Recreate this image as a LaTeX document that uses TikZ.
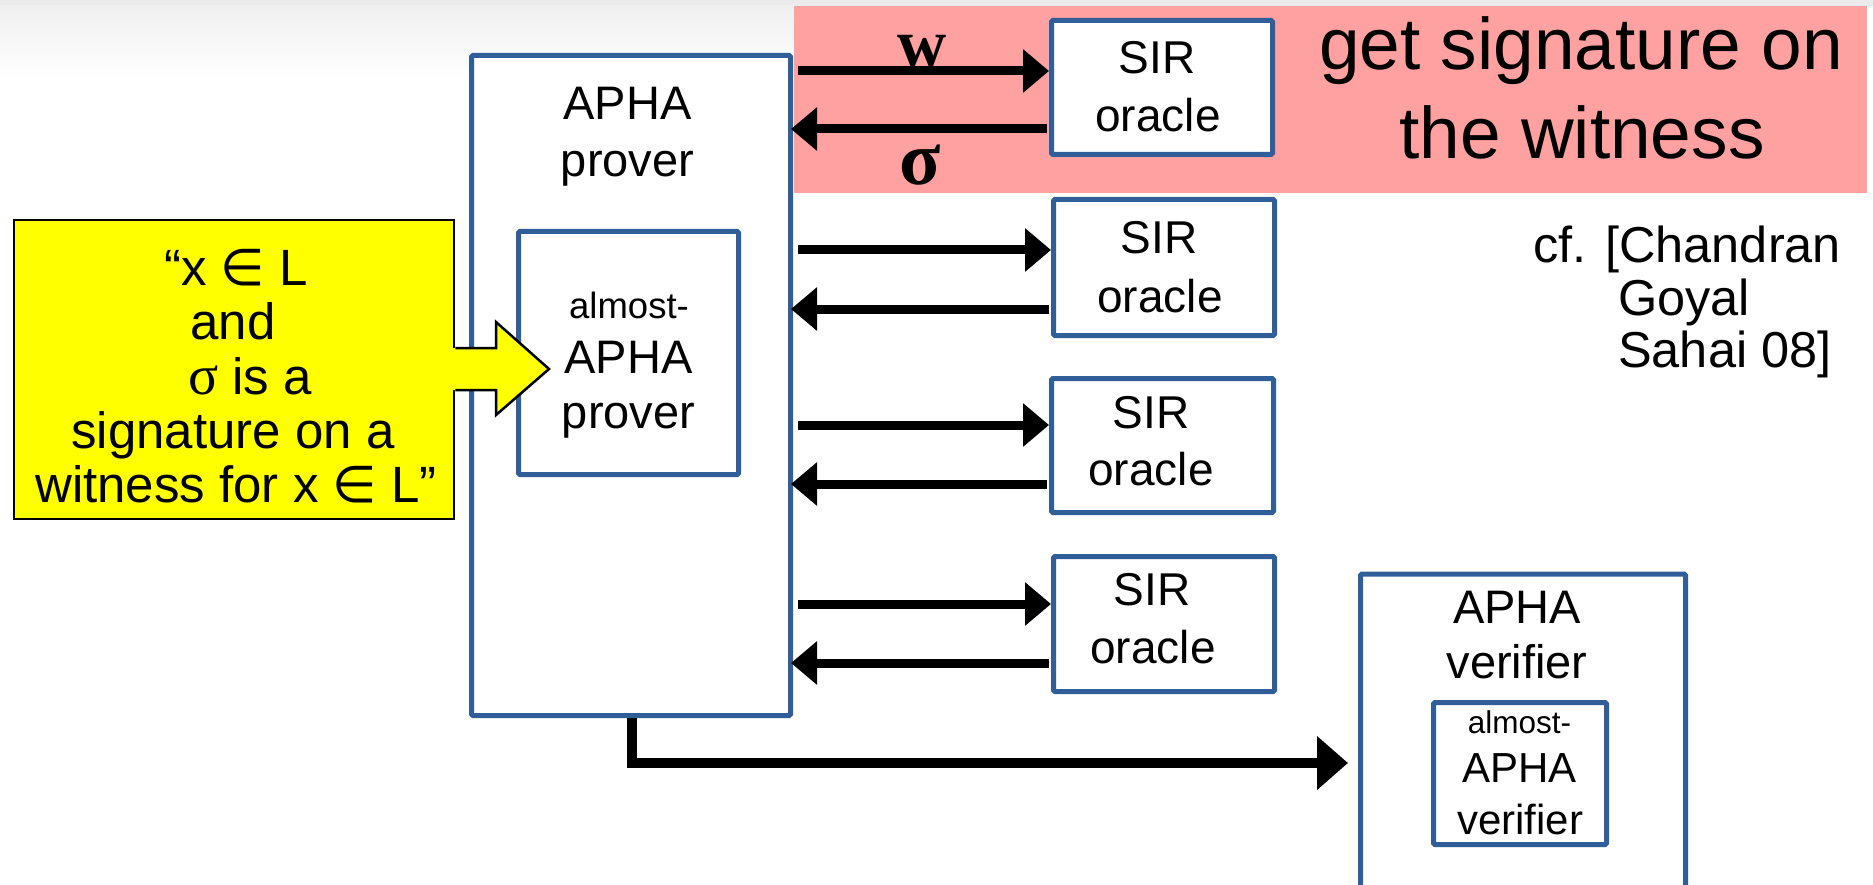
\documentclass[tikz,border=0pt]{standalone}
\usepackage{fontspec}
\setmainfont{Liberation Sans}
\newfontfamily\grk{Liberation Serif}
\newfontfamily\dvs{DejaVu Sans}
\usetikzlibrary{arrows.meta}
\definecolor{boxblue}{RGB}{47,94,152}
\definecolor{hilite}{RGB}{255,161,160}
\definecolor{shout}{RGB}{255,255,0}
\newcommand{\fsz}[1]{\fontsize{#1}{#1}\selectfont}
\tikzset{
  bluebox/.style={draw=boxblue, line width=5pt, fill=white, rounded corners=1.5pt, inner sep=0pt},
  txt/.style={anchor=base, inner sep=0pt, font=\fsz{#1}},
  txtw/.style={anchor=base west, inner sep=0pt, font=\fsz{#1}},
  msg/.style={line width=9pt, -{Triangle[length=26pt,width=42pt]}},
  outmsg/.style={line width=10pt, -{Triangle[length=31pt,width=52pt]}, shorten >=10pt},
}
\begin{document}
\begin{tikzpicture}[x=1pt,y=-1pt]
\useasboundingbox (0,0) rectangle (1873,885);
\clip (0,0) rectangle (1873,885);

% header band and highlight strip
\fill[black!8] (0,0) rectangle (1873,6);
\shade[top color=black!6, bottom color=white] (0,6) rectangle (794,78);
\fill[hilite] (794,6) rectangle (1867,193);

% prover
\node[bluebox, minimum width=319pt, minimum height=660pt] (prover) at (631,385.5) {};
\node[bluebox, minimum width=220pt, minimum height=243pt] (inner) at (628.5,353) {};
\node[txt=47] (pa) at (627.5,120) {APHA};
\node[txt=47] (pb) at (627.5,177) {prover};
\node[txt=36.5] (ia) at (629,318) {almost-};
\node[txt=47] (ib) at (628.5,373) {APHA};
\node[txt=47] (ic) at (628.5,428) {prover};

% oracles
\node[bluebox, minimum width=221pt, minimum height=134pt] (sir1) at (1162,87.5) {};
\node[bluebox, minimum width=221pt, minimum height=136pt] (sir2) at (1164,267.5) {};
\node[bluebox, minimum width=222pt, minimum height=134pt] (sir3) at (1162.5,445.5) {};
\node[bluebox, minimum width=221pt, minimum height=135pt] (sir4) at (1164,624) {};
\node[txt=46] (s1a) at (1157,74) {SIR};
\node[txt=46] (s1b) at (1158,132) {oracle};
\node[txt=46] (s2a) at (1159,254) {SIR};
\node[txt=46] (s2b) at (1160,312) {oracle};
\node[txt=46] (s3a) at (1151,428) {SIR};
\node[txt=46] (s3b) at (1151,485) {oracle};
\node[txt=46] (s4a) at (1152,605) {SIR};
\node[txt=46] (s4b) at (1153,663) {oracle};

% verifier
\node[bluebox, minimum width=325pt, minimum height=330pt] (verif) at (1523,739) {};
\node[bluebox, minimum width=173pt, minimum height=142pt] (vin) at (1520,773.5) {};
\node[txt=47] (va) at (1517,623) {APHA};
\node[txt=47] (vb) at (1517,678) {verifier};
\node[txt=31.5] (vc) at (1519.5,733) {almost-};
\node[txt=42] (vd) at (1519.5,782) {APHA};
\node[txt=42] (ve) at (1520,834) {verifier};

% message arrows
\foreach \k/\ya/\yb in {1/71/129, 2/250/309, 3/425/484, 4/604/663}{
  \coordinate (q\k) at (0,\ya);
  \coordinate (a\k) at (0,\yb);
  \draw[msg, shorten <=5pt] (prover.east |- q\k) -- (sir\k.west |- q\k);
  \draw[msg, shorten <=2pt, shorten >=-2pt] (sir\k.west |- a\k) -- (prover.east |- a\k);
}
\node[txt=68, font=\fsz{68}\grk\bfseries] (wlab) at (922,67) {w};
\node[txt=76, font=\fsz{76}\grk\bfseries] (slab) at (920,185) {σ};

% output to verifier
\coordinate (bend) at (632,763);
\draw[outmsg] (prover.south -| bend) -- (bend) -- (verif.west |- bend);

% statement box and block arrow
\node[draw=black, line width=2.5pt, fill=shout, minimum width=440pt, minimum height=299pt, inner sep=0pt] (claim) at (234,369.5) {};
\node[txt=51] (c1) at (236,285) {“x {\dvs ∈} L};
\node[txt=51] (c2) at (233,339) {and};
\node[txt=51] (c3) at (250,394) {{\grk\fsz{56}σ} is a};
\node[txt=51] (c4) at (233,448) {signature on a};
\node[txt=51] (c5) at (236,502) {witness for x {\dvs ∈} L”};
\fill[shout] (450,348) -- (496,348) -- (496,322) -- (549,369) -- (496,415) -- (496,390) -- (450,390) -- cycle;
\draw[line width=2.5pt] (claim.east |- 0,348) -- (496,348) -- (496,322) -- (549,369) -- (496,415) -- (496,390) -- (claim.east |- 0,390);

% captions
\node[txt=73] (g1) at (1581,70) {get signature on};
\node[txt=73] (g2) at (1582,159) {the witness};
\node[txtw=50.5] (r1) at (1533,262) {cf. [Chandran};
\node[txtw=50.5] (r2) at (1618,315) {Goyal};
\node[txtw=50.5] (r3) at (1618,367) {Sahai 08]};
\end{tikzpicture}
\end{document}
